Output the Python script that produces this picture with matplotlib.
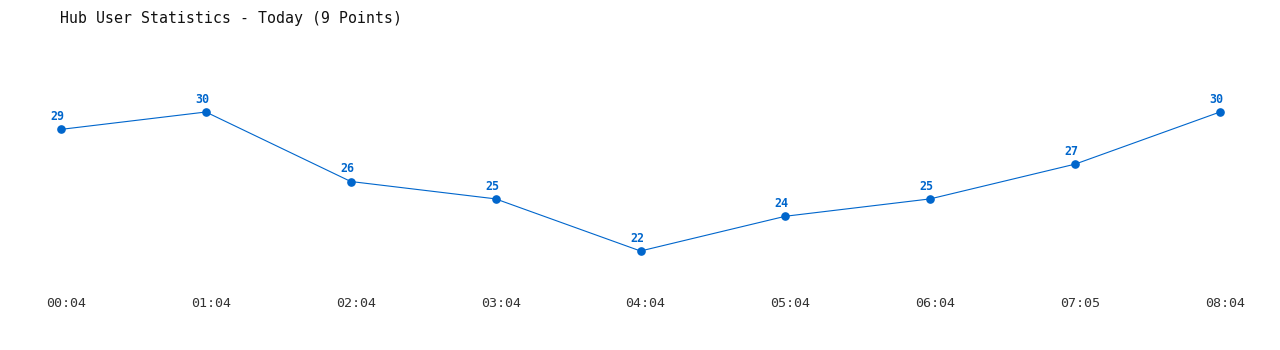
import matplotlib
matplotlib.use("Agg")
import matplotlib.pyplot as plt
import matplotlib.transforms as mtransforms

times = ["00:04", "01:04", "02:04", "03:04", "04:04", "05:04", "06:04", "07:05", "08:04"]
users = [29, 30, 26, 25, 22, 24, 25, 27, 30]

W, H = 1280, 350
fig = plt.figure(figsize=(W / 100, H / 100), dpi=100)
ax = fig.add_axes([61 / W, (H - 280) / H, (1220 - 61) / W, (280 - 40) / H])

x = list(range(len(times)))
color = "#0066CC"
ax.plot(x, users, color=color, linewidth=0.8, marker="o", markersize=5.2,
        zorder=3, clip_on=False)
for xi, v in zip(x, users):
    ax.annotate(str(v), (xi, v), xytext=(-2.6, 6.6), textcoords="offset points",
                ha="center", va="baseline", color=color, fontsize=8.4,
                fontweight="bold", family="DejaVu Sans Mono")

ax.set_xlim(0, len(times) - 1)
ax.set_ylim(20.331, 34.144)
ax.set_xticks(x)
ax.set_xticklabels(times, family="DejaVu Sans Mono", fontsize=9.6, color="#333333")
ax.set_yticks([])
ax.tick_params(axis="x", length=0, pad=12)
shift = mtransforms.ScaledTranslation(5 / 100, 0, fig.dpi_scale_trans)
for lbl in ax.get_xticklabels():
    lbl.set_transform(lbl.get_transform() + shift)
for s in ax.spines.values():
    s.set_visible(False)
ax.patch.set_alpha(0)

fig.text(60 / W, 1 - 18 / H, "Hub User Statistics - Today (9 Points)",
         family="DejaVu Sans Mono", fontsize=10.7,
         color="#111111", ha="left", va="center")

fig.savefig("out.png", dpi=100, facecolor="white")
